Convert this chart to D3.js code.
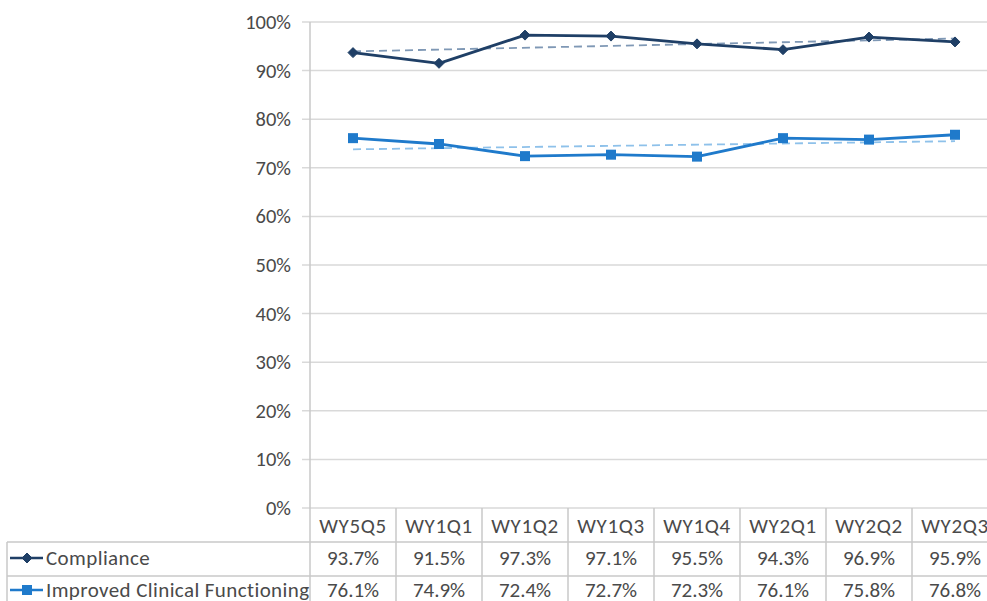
<!DOCTYPE html>
<html><head><meta charset="utf-8">
<script src="https://cdn.jsdelivr.net/npm/d3@7"></script>
<style>
html,body{margin:0;padding:0;background:#fff;}
svg{display:block;}
</style></head>
<body>
<script>
const categories = ["WY5Q5","WY1Q1","WY1Q2","WY1Q3","WY1Q4","WY2Q1","WY2Q2","WY2Q3"];
const compliance = [93.7,91.5,97.3,97.1,95.5,94.3,96.9,95.9];
const improved = [76.1,74.9,72.4,72.7,72.3,76.1,75.8,76.8];
const seriesNames = ["Compliance","Improved Clinical Functioning"];
const yTicks = [0,10,20,30,40,50,60,70,80,90,100];

const W = 987, H = 601;
const plotLeft = 310, colW = 86, yTop = 22, yBottom = 508;
const rowH = 34;
const FONT = "Carlito, Calibri, Lato, sans-serif";
const textColor = "#4A4A4A";
const gridColor = "#D9D9D9";
const tableColor = "#C8C8C8";
const colors = ["#1F3F66","#1F7ACB"];
const trendColors = ["#7F98B5","#8EC1EA"];

const svg = d3.select("body").append("svg").attr("width",W).attr("height",H);

const x = d3.scaleBand().domain(categories).range([plotLeft, plotLeft + colW*categories.length]).padding(0);
const y = d3.scaleLinear().domain([0,100]).range([yBottom, yTop]);

// gridlines
svg.append("g").selectAll("line").data(yTicks).join("line")
  .attr("x1", plotLeft - 8).attr("x2", W)
  .attr("y1", d=>y(d)).attr("y2", d=>y(d))
  .attr("stroke", gridColor).attr("stroke-width",1.5);

// y axis line
svg.append("line").attr("x1",plotLeft).attr("x2",plotLeft).attr("y1",yTop).attr("y2",H)
  .attr("stroke",tableColor).attr("stroke-width",1.5);

// tick labels
svg.append("g").selectAll("text").data(yTicks).join("text")
  .attr("x", plotLeft - 19).attr("y", d=>y(d))
  .attr("text-anchor","end").attr("dominant-baseline","central")
  .attr("font-family",FONT).attr("font-size",20.5).attr("fill",textColor)
  .text(d=>d+"%");

// data table
const tableTop = yBottom;
const tg = svg.append("g");
tg.selectAll("line.col").data(categories).join("line").attr("class","col")
  .attr("x1", d=>x(d)+colW).attr("x2", d=>x(d)+colW)
  .attr("y1", tableTop).attr("y2", H)
  .attr("stroke",tableColor).attr("stroke-width",1.5);
[1,2,3].forEach(i=>{
  tg.append("line").attr("x1",7).attr("x2",W)
    .attr("y1",tableTop+rowH*i).attr("y2",tableTop+rowH*i)
    .attr("stroke",tableColor).attr("stroke-width",1.5);
});
tg.append("line").attr("x1",7).attr("x2",7).attr("y1",tableTop+rowH).attr("y2",H)
  .attr("stroke",tableColor).attr("stroke-width",1.5);

tg.selectAll("text.hdr").data(categories).join("text").attr("class","hdr")
  .attr("x", d=>x(d)+colW/2).attr("y", tableTop+18)
  .attr("text-anchor","middle").attr("dominant-baseline","central")
  .attr("font-family",FONT).attr("font-size",21).attr("letter-spacing",0.6).attr("fill",textColor)
  .text(d=>d);

const allSeries = [compliance, improved];
const rowCenters = [tableTop+50, tableTop+82];
allSeries.forEach((vals, si)=>{
  const rowY = rowCenters[si];
  tg.selectAll("text.v"+si).data(vals).join("text").attr("class","v"+si)
    .attr("x",(d,i)=>x(categories[i])+colW/2).attr("y",rowY)
    .attr("text-anchor","middle").attr("dominant-baseline","central")
    .attr("font-family",FONT).attr("font-size",21).attr("fill",textColor)
    .text(d=>d.toFixed(1)+"%");
  tg.append("line").attr("x1",10).attr("x2",43).attr("y1",rowY).attr("y2",rowY)
    .attr("stroke",colors[si]).attr("stroke-width",2.5);
  drawMarker(tg, si, 27, rowY);
  tg.append("text").attr("x",46).attr("y",rowY)
    .attr("dominant-baseline","central")
    .attr("font-family",FONT).attr("font-size",21).attr("letter-spacing",0.4).attr("fill",textColor)
    .text(seriesNames[si]);
});

function drawMarker(g, si, cx, cy){
  if(si===0){
    g.append("path").attr("d",`M${cx},${cy-5}L${cx+5},${cy}L${cx},${cy+5}L${cx-5},${cy}Z`)
      .attr("fill",colors[0]).attr("stroke",colors[0]).attr("stroke-width",1);
  } else {
    g.append("rect").attr("x",cx-5).attr("y",cy-5).attr("width",10).attr("height",10)
      .attr("fill",colors[1]);
  }
}

function regress(vals){
  const n = vals.length, mx = (n-1)/2, my = d3.mean(vals);
  let sxy=0, sxx=0;
  vals.forEach((v,i)=>{sxy+=(i-mx)*(v-my); sxx+=(i-mx)*(i-mx);});
  const b = sxy/sxx, a = my - b*mx;
  return [a, a+b*(n-1)];
}
const cx = i => x(categories[i]) + colW/2;
const line = d3.line().x((d,i)=>cx(i)).y(d=>y(d));

allSeries.forEach((vals,si)=>{
  const [s,e] = regress(vals);
  svg.append("line").attr("x1",cx(0)).attr("x2",cx(vals.length-1))
    .attr("y1",y(s)).attr("y2",y(e))
    .attr("stroke",trendColors[si]).attr("stroke-width",1.8).attr("stroke-dasharray","8,5");
});
allSeries.forEach((vals,si)=>{
  svg.append("path").datum(vals).attr("d",line).attr("fill","none")
    .attr("stroke",colors[si]).attr("stroke-width",2.8).attr("stroke-linejoin","round");
  const mg = svg.append("g");
  vals.forEach((v,i)=>drawMarker(mg, si, cx(i), y(v)));
});
</script>
</body></html>
